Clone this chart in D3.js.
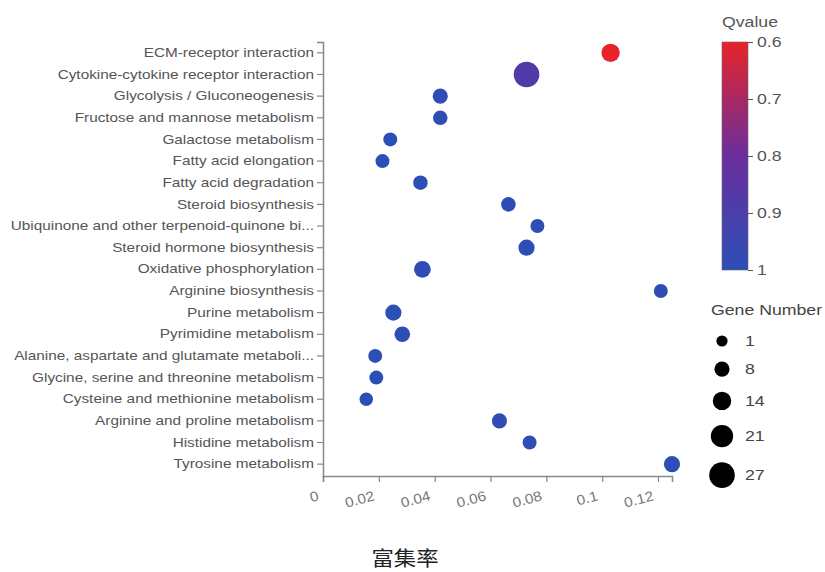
<!DOCTYPE html>
<html>
<head>
<meta charset="utf-8">
<script src="https://cdn.jsdelivr.net/npm/d3@7"></script>
<style>
  body { margin: 0; background: #fff; }
  svg { display: block; font-family: "Liberation Sans", Arial, sans-serif; }
</style>
</head>
<body>
<svg id="chart" width="825" height="572"></svg>
<script>
const pathways = [
  "ECM-receptor interaction",
  "Cytokine-cytokine receptor interaction",
  "Glycolysis / Gluconeogenesis",
  "Fructose and mannose metabolism",
  "Galactose metabolism",
  "Fatty acid elongation",
  "Fatty acid degradation",
  "Steroid biosynthesis",
  "Ubiquinone and other terpenoid-quinone bi...",
  "Steroid hormone biosynthesis",
  "Oxidative phosphorylation",
  "Arginine biosynthesis",
  "Purine metabolism",
  "Pyrimidine metabolism",
  "Alanine, aspartate and glutamate metaboli...",
  "Glycine, serine and threonine metabolism",
  "Cysteine and methionine metabolism",
  "Arginine and proline metabolism",
  "Histidine metabolism",
  "Tyrosine metabolism"
];
const richFactor = [0.103, 0.0729, 0.042, 0.042, 0.0241, 0.0213, 0.0349, 0.0664, 0.0768, 0.0729,
                    0.0356, 0.121, 0.0252, 0.0284, 0.0187, 0.0191, 0.0155, 0.0632, 0.074, 0.125];
const geneNumber = [14, 27, 8, 7, 6, 6, 7, 7, 6, 10, 11, 6, 10, 9, 6, 6, 5, 8, 6, 10];
const qValue = [0.6, 0.88, 0.99, 0.99, 1, 1, 1, 0.99, 0.99, 0.99, 0.99, 0.99, 1, 0.99, 1, 1, 1, 0.99, 0.99, 1];
const xTicks = [0, 0.02, 0.04, 0.06, 0.08, 0.1, 0.12];
const qTicks = [0.6, 0.7, 0.8, 0.9, 1];
const sizeLegend = [1, 8, 14, 21, 27];
const xTitle = "富集率";

const SX = 1.18; // horizontal stretch seen in the reference text
const svg = d3.select("#chart");
const x = d3.scaleLinear().domain([0, 0.125]).range([323, 672]);
const y = d3.scaleBand().domain(pathways).range([42, 475]);
const r = d3.scaleLinear().domain([1, 27]).range([5.6, 12.8]);
const color = d3.scaleLinear().domain([0.6, 0.8, 1]).range(["#e8232a", "#6a2e9e", "#2c4fb6"]);

// Y axis
const yAxis = svg.append("g").attr("transform", "translate(323,0)")
  .call(d3.axisLeft(y).tickSize(6).tickSizeOuter(6));
yAxis.select(".domain").attr("stroke", "#888").attr("stroke-width", 1.5)
  .attr("d", "M-6,42.5H0.5V478");
yAxis.selectAll(".tick line").attr("stroke", "#888").attr("stroke-width", 1.2);
yAxis.selectAll(".tick text").attr("fill", "#555").attr("font-size", 13)
  .attr("x", -9 / SX).attr("transform", `scale(${SX},1)`)
  .attr("font-family", "Liberation Sans, Arial, sans-serif");

// X axis
const xAxis = svg.append("g").attr("transform", "translate(0,476)")
  .call(d3.axisBottom(x).tickValues(xTicks).tickFormat(d => d3.format("")(+d.toFixed(2))).tickSize(6).tickSizeOuter(6));
xAxis.select(".domain").attr("stroke", "#888").attr("stroke-width", 1.5);
xAxis.selectAll(".tick line").attr("stroke", "#888").attr("stroke-width", 1.2);
xAxis.selectAll(".tick text").attr("fill", "#777").attr("font-size", 14)
  .attr("font-family", "Liberation Sans, Arial, sans-serif")
  .attr("text-anchor", "end").attr("x", 0).attr("y", 0).attr("dy", 0)
  .attr("transform", `translate(-4,24) rotate(-15) scale(1.1,1)`);

// Dots
const rows = pathways.map((p, i) => ({p, x: richFactor[i], n: geneNumber[i], q: qValue[i]}));
svg.append("g").selectAll("circle").data(rows).join("circle")
  .attr("cx", d => x(d.x))
  .attr("cy", d => y(d.p) + y.bandwidth() / 2)
  .attr("r", d => r(d.n))
  .attr("fill", d => color(d.q));

// X title
svg.append("text").attr("transform", "translate(405,566) scale(1.12,1)").attr("text-anchor", "middle")
  .attr("font-family", "Noto Sans CJK SC, sans-serif").attr("font-size", 20).attr("fill", "#222")
  .text(xTitle);

// Color legend
const defs = svg.append("defs");
const grad = defs.append("linearGradient").attr("id", "qgrad")
  .attr("x1", 0).attr("y1", 0).attr("x2", 0).attr("y2", 1);
d3.range(0, 1.0001, 0.1).forEach(t => {
  grad.append("stop").attr("offset", t).attr("stop-color", color(0.6 + 0.4 * t));
});
const cy = d3.scaleLinear().domain([0.6, 1]).range([42, 270]);
svg.append("text").attr("transform", `translate(722,27) scale(${SX},1)`).attr("font-size", 15).attr("fill", "#555").text("Qvalue");
svg.append("rect").attr("x", 722).attr("y", 42).attr("width", 26).attr("height", 228)
  .attr("fill", "url(#qgrad)").attr("stroke", "#666").attr("stroke-width", 0.6);
const cAxis = svg.append("g").attr("transform", "translate(748,0)")
  .call(d3.axisRight(cy).tickValues(qTicks).tickFormat(d3.format("")).tickSize(5).tickSizeOuter(0));
cAxis.select(".domain").remove();
cAxis.selectAll(".tick line").attr("stroke", "#555");
cAxis.selectAll(".tick text").attr("fill", "#555").attr("font-size", 15).attr("x", 9 / SX)
  .attr("transform", `scale(${SX},1)`)
  .attr("font-family", "Liberation Sans, Arial, sans-serif");

// Size legend (stacked by radius)
svg.append("text").attr("transform", `translate(711,315) scale(${SX},1)`).attr("font-size", 15).attr("fill", "#444").text("Gene Number");
const legPos = [];
sizeLegend.forEach((d, i) => {
  legPos.push(i === 0 ? 341 : legPos[i - 1] + r(sizeLegend[i - 1]) + r(d) + 15);
});
const sl = svg.append("g").selectAll("g").data(sizeLegend).join("g")
  .attr("transform", (d, i) => `translate(0,${legPos[i]})`);
sl.append("circle").attr("cx", 722).attr("cy", 0).attr("r", d => r(d)).attr("fill", "#000");
sl.append("text").attr("transform", `translate(745,0) scale(${SX},1)`).attr("dy", "0.35em").attr("font-size", 15)
  .attr("fill", "#444").text(d => d);
</script>
</body>
</html>
